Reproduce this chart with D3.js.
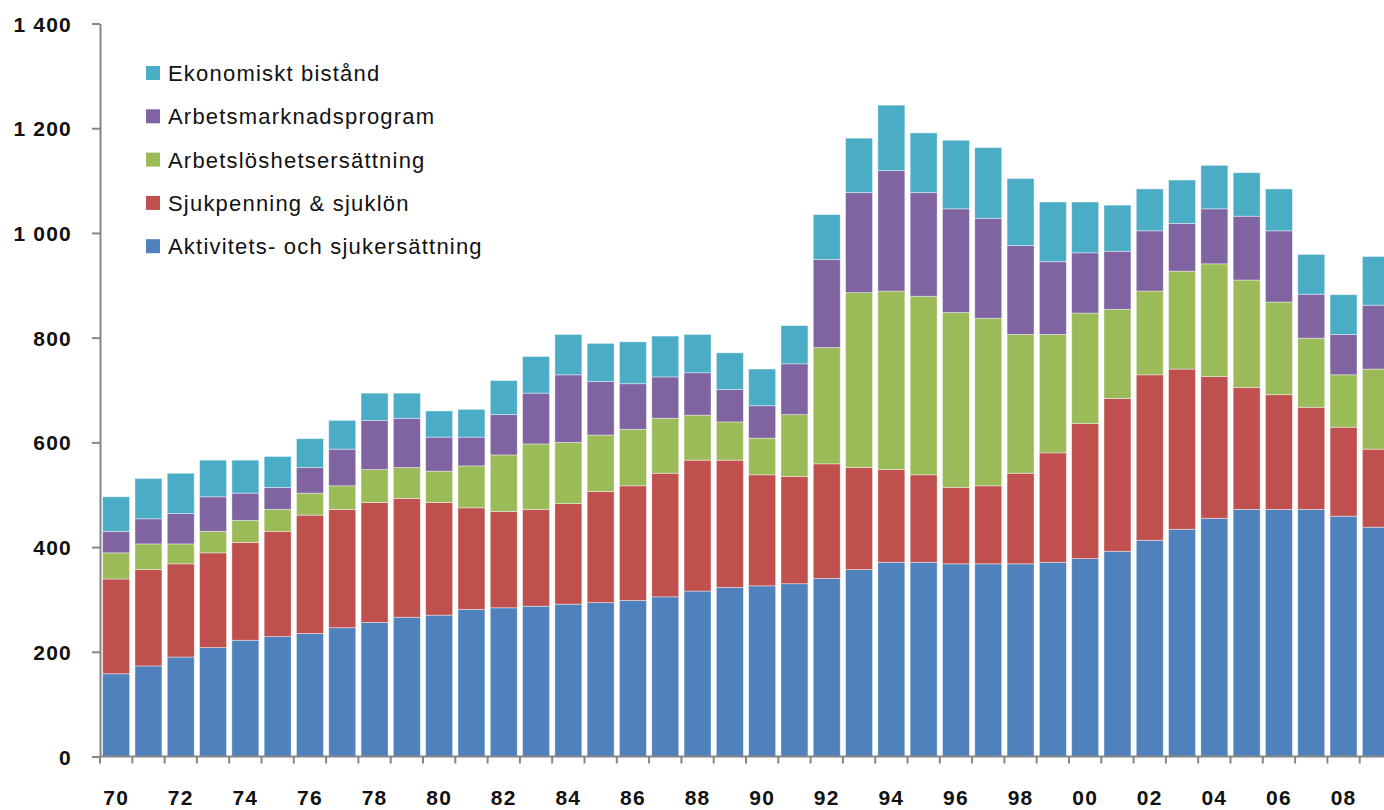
<!DOCTYPE html>
<head>
  <meta charset="utf-8">
  <script src="https://d3js.org/d3.v7.min.js"></script>
  <style>
    body { margin: 0; background: #fff; }
    .axis path, .axis line { stroke: #868686; stroke-width: 2; }
    .tick-label { font: bold 21px "Liberation Sans", Arial, sans-serif; letter-spacing: 1.2px; fill: #111; }
    .legend text { font: 22px "Liberation Sans", Arial, sans-serif; letter-spacing: 1.2px; fill: #111; }
  </style>
</head>
<body>
<script>

  // years 1970-2009
  var years = d3.range(1970, 2010);

  var aktivitet = [158, 173, 190, 208, 222, 229, 235, 246, 256, 266,
                   270, 281, 284, 287, 291, 294, 298, 305, 316, 323,
                   326, 330, 340, 357, 371, 371, 368, 368, 368, 371,
                   378, 392, 413, 434, 455, 472, 472, 472, 459, 438];
  var sjukpenning = [181, 184, 178, 181, 187, 201, 226, 226, 229, 227,
                     215, 194, 184, 185, 192, 212, 219, 236, 250, 243,
                     212, 205, 219, 195, 177, 167, 146, 149, 173, 209,
                     258, 292, 316, 306, 271, 233, 219, 195, 170, 149];
  var arbetsloshet = [50, 49, 38, 41, 42, 42, 42, 45, 63, 59,
                      60, 80, 108, 125, 117, 108, 108, 105, 86, 73,
                      70, 118, 222, 334, 341, 341, 334, 320, 265, 226,
                      211, 170, 160, 187, 215, 205, 177, 132, 100, 153];
  var arbetsmarknad = [41, 48, 58, 66, 52, 42, 49, 70, 94, 94,
                       65, 55, 77, 97, 129, 102, 87, 79, 81, 62,
                       62, 97, 168, 191, 230, 198, 198, 191, 170, 139,
                       115, 111, 115, 91, 105, 122, 136, 84, 77, 122];
  var ekonomiskt = [66, 77, 77, 70, 63, 59, 55, 55, 52, 48,
                    50, 53, 65, 70, 77, 73, 80, 78, 73, 70,
                    70, 73, 86, 104, 125, 114, 131, 135, 128, 114,
                    97, 88, 80, 83, 83, 83, 80, 76, 76, 93];

  var seriesNames = ["Aktivitets- och sjukersättning", "Sjukpenning & sjuklön",
                     "Arbetslöshetsersättning", "Arbetsmarknadsprogram", "Ekonomiskt bistånd"];
  var colors = ["#4f81bd", "#c0504d", "#9bbb59", "#8064a2", "#4bacc6"];
  var yTicks = [0, 200, 400, 600, 800, 1000, 1200, 1400];

  var seriesValues = [aktivitet, sjukpenning, arbetsloshet, arbetsmarknad, ekonomiskt];
  var table = years.map(function(yr, i) {
    var row = { year: yr };
    seriesNames.forEach(function(name, k) { row[name] = seriesValues[k][i]; });
    return row;
  });

  var width = 1384, height = 810;
  var plotLeft = 100, plotRight = 1392, plotTop = 23.5, plotBottom = 756.5;

  var svg = d3.select("body").append("svg")
      .attr("width", width)
      .attr("height", height);

  var pad = 0.165;
  var x = d3.scaleBand()
      .domain(years)
      .range([plotLeft, plotRight])
      .paddingInner(pad)
      .paddingOuter(pad / 2);

  var y = d3.scaleLinear()
      .domain([0, 1400])
      .range([plotBottom, plotTop]);

  var stack = d3.stack().keys(seriesNames);
  var layers = stack(table);

  svg.selectAll(".layer")
      .data(layers)
    .enter().append("g")
      .attr("class", "layer")
      .attr("fill", function(d, i) { return colors[i]; })
    .selectAll("rect")
      .data(function(d) { return d; })
    .enter().append("rect")
      .attr("x", function(d) { return x(d.data.year); })
      .attr("width", x.bandwidth())
      .attr("y", function(d) { return y(d[1]); })
      .attr("height", function(d) { return y(d[0]) - y(d[1]); })
      .attr("stroke", "#ffffff")
      .attr("stroke-opacity", 0.5)
      .attr("stroke-width", 0.8);

  // y axis
  var fmt = d3.formatLocale({ decimal: ",", thousands: "\u00a0", grouping: [3], currency: ["", ""] }).format(",");
  var yAxis = svg.append("g")
      .attr("class", "axis")
      .attr("transform", "translate(" + plotLeft + ",0)")
      .call(d3.axisLeft(y).tickValues(yTicks).tickSize(8).tickPadding(20).tickFormat(fmt).tickSizeOuter(0));
  yAxis.selectAll("text").attr("class", "tick-label").attr("dy", "0.36em");

  // x axis: ticks at category boundaries (Excel style)
  var step = x.step();
  var xAxis = svg.append("g").attr("class", "axis");
  xAxis.append("line")
      .attr("x1", plotLeft).attr("x2", plotRight)
      .attr("y1", plotBottom).attr("y2", plotBottom);
  xAxis.selectAll(".xtick")
      .data(years)
    .enter().append("line")
      .attr("class", "xtick")
      .attr("x1", function(d) { return x(d) - step * pad / 2; })
      .attr("x2", function(d) { return x(d) - step * pad / 2; })
      .attr("y1", plotBottom)
      .attr("y2", plotBottom + 7);

  svg.selectAll(".xlabel")
      .data(years.filter(function(d) { return d % 2 === 0; }))
    .enter().append("text")
      .attr("class", "tick-label")
      .attr("text-anchor", "middle")
      .attr("x", function(d) { return x(d) + x.bandwidth() / 2; })
      .attr("y", 805)
      .text(function(d) { return String(d % 100).padStart(2, "0"); });

  // legend, top entry first
  var legend = svg.append("g").attr("class", "legend");
  var legendItems = seriesNames.slice().reverse();
  var legendColors = colors.slice().reverse();
  legendItems.forEach(function(name, i) {
    var cy = 73 + i * 43.3;
    legend.append("rect")
        .attr("x", 146).attr("y", cy - 7)
        .attr("width", 14).attr("height", 14)
        .attr("fill", legendColors[i]);
    legend.append("text")
        .attr("x", 168).attr("y", cy)
        .attr("dy", "0.36em")
        .text(name);
  });

</script>
</body>
